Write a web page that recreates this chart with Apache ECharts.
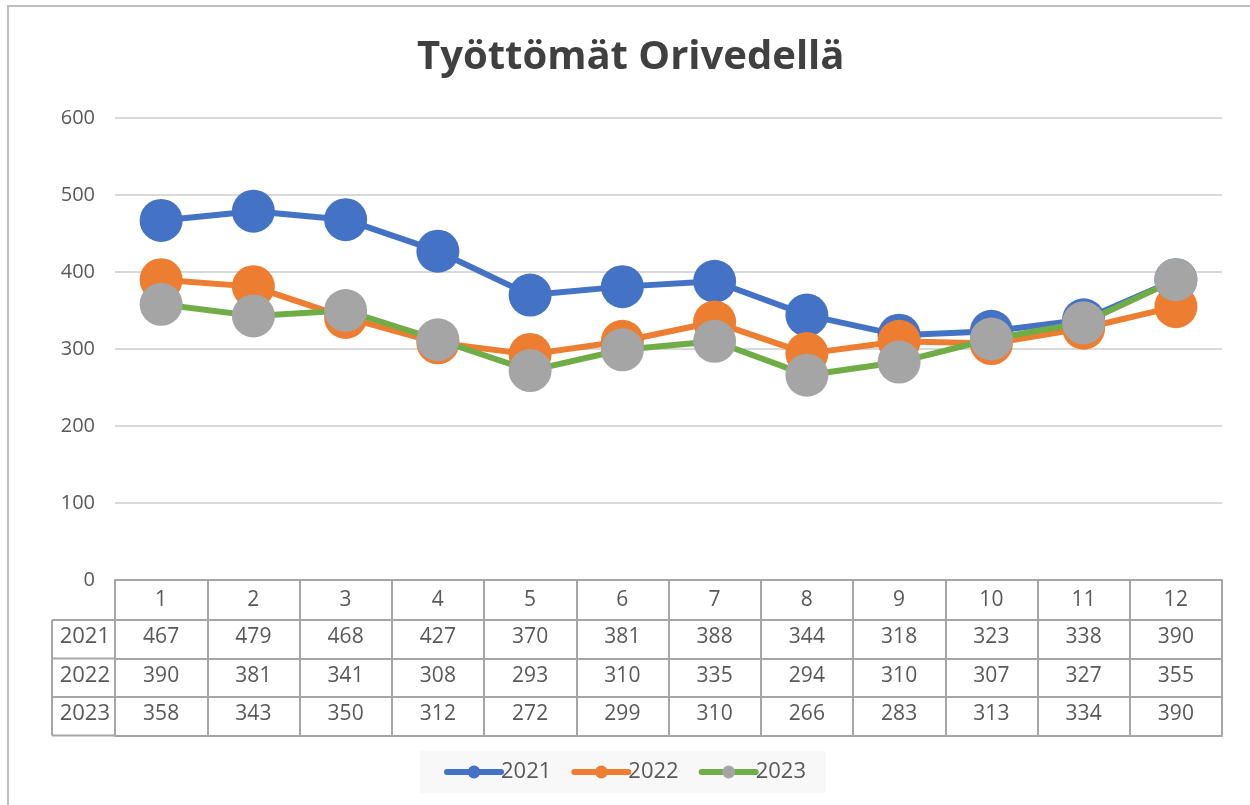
<!DOCTYPE html>
<html>
<head>
<meta charset="utf-8">
<script src="https://cdn.jsdelivr.net/npm/echarts@6/dist/echarts.min.js"></script>
<style>
  html, body { margin: 0; padding: 0; background: #fff; }
  #chart { width: 1250px; height: 805px; }
</style>
</head>
<body>
<div id="chart"></div>
<script>
// months 1-12
const months = ['1', '2', '3', '4', '5', '6', '7', '8', '9', '10', '11', '12']
const years = ['2021', '2022', '2023']
const v2021 = [467, 479, 468, 427, 370, 381, 388, 344, 318, 323, 338, 390]
const v2022 = [390, 381, 341, 308, 293, 310, 335, 294, 310, 307, 327, 355]
const v2023 = [358, 343, 350, 312, 272, 299, 310, 266, 283, 313, 334, 390]
const yTicks = [0, 600, 100] // min, max, interval

const rows = [v2021, v2022, v2023]
const lineColors = ['#4472C4', '#ED7D31', '#70AD47']
const dotColors = ['#4472C4', '#ED7D31', '#A5A5A5']

const font = '"Open Sans", "Noto Sans", sans-serif'
const textColor = '#595959'
const tableLine = '#a6a6a6'

const headerH = 40
const rowH = 38.5

const chart = echarts.init(document.getElementById('chart'))

// header axis: month numbers inside first table row
const xAxes = [{
  type: 'category',
  gridIndex: 0,
  position: 'bottom',
  data: months,
  boundaryGap: true,
  axisLine: { show: true, lineStyle: { color: tableLine, width: 2 } },
  axisTick: { show: true, length: headerH, lineStyle: { color: tableLine, width: 2 } },
  axisLabel: { margin: 10, fontSize: 21, color: textColor, fontFamily: font },
  splitLine: { show: false }
}]

// one axis per table row, labels come from the series values
rows.forEach((vals, i) => {
  xAxes.push({
    type: 'category',
    gridIndex: 0,
    position: 'bottom',
    offset: headerH + rowH * i,
    data: months,
    boundaryGap: true,
    name: years[i],
    nameLocation: 'start',
    nameGap: 5,
    nameTextStyle: { fontSize: 22, color: textColor, fontFamily: font, verticalAlign: 'top', padding: [6, 0, 0, 0] },
    axisLine: { show: true, lineStyle: { color: tableLine, width: 2 } },
    axisTick: { show: true, length: rowH, lineStyle: { color: tableLine, width: 2 } },
    axisLabel: {
      margin: 7, fontSize: 21, color: textColor, fontFamily: font,
      formatter: (val, idx) => String(vals[idx])
    },
    splitLine: { show: false }
  })
})

// closing line of the table
xAxes.push({
  type: 'category',
  gridIndex: 0,
  position: 'bottom',
  offset: headerH + rowH * 3,
  data: months,
  axisLine: { show: true, lineStyle: { color: tableLine, width: 2 } },
  axisTick: { show: false },
  axisLabel: { show: false },
  splitLine: { show: false }
})

const gridLeft = 115
const gridBottomY = 580
const tableTop = gridBottomY + headerH

const graphics = [{
  type: 'rect',
  shape: { x: 8, y: 6, width: 1300, height: 900 },
  style: { fill: 'none', stroke: '#bfbfbf', lineWidth: 2 },
  silent: true
}, {
  type: 'line',
  shape: { x1: 52, y1: tableTop, x2: 52, y2: tableTop + rowH * 3 },
  style: { stroke: tableLine, lineWidth: 2 },
  silent: true
}]
for (let i = 0; i <= 3; i++) {
  graphics.push({
    type: 'line',
    shape: { x1: 52, y1: tableTop + rowH * i, x2: gridLeft, y2: tableTop + rowH * i },
    style: { stroke: tableLine, lineWidth: 2 },
    silent: true
  })
}

chart.setOption({
  backgroundColor: '#fff',
  animation: false,
  title: {
    text: 'Työttömät Orivedellä',
    left: 412,
    top: 33,
    textStyle: { fontSize: 40, fontWeight: 'bold', color: '#404040', fontFamily: font }
  },
  grid: { left: gridLeft, right: 28, top: 118, bottom: 805 - gridBottomY },
  xAxis: xAxes,
  yAxis: {
    type: 'value',
    min: yTicks[0],
    max: yTicks[1],
    interval: yTicks[2],
    axisLine: { show: false },
    axisTick: { show: false },
    axisLabel: { margin: 20, fontSize: 20, color: textColor, fontFamily: font },
    splitLine: { lineStyle: { color: '#d9d9d9', width: 2 } }
  },
  legend: {
    bottom: 12,
    left: 'center',
    backgroundColor: '#f8f8f8',
    padding: [10, 20, 10, 24],
    itemWidth: 54,
    itemHeight: 16,
    itemGap: 20,
    lineStyle: { width: 6, cap: 'round' },
    textStyle: { fontSize: 22, color: textColor, fontFamily: font, padding: [0, 0, 0, -5] },
    data: years
  },
  graphic: graphics,
  series: rows.map((vals, i) => ({
    name: years[i],
    type: 'line',
    xAxisIndex: 0,
    data: vals,
    symbol: 'circle',
    symbolSize: 43,
    lineStyle: { color: lineColors[i], width: 6 },
    itemStyle: { color: dotColors[i] },
    z: 2 + i
  }))
})
</script>
</body>
</html>
